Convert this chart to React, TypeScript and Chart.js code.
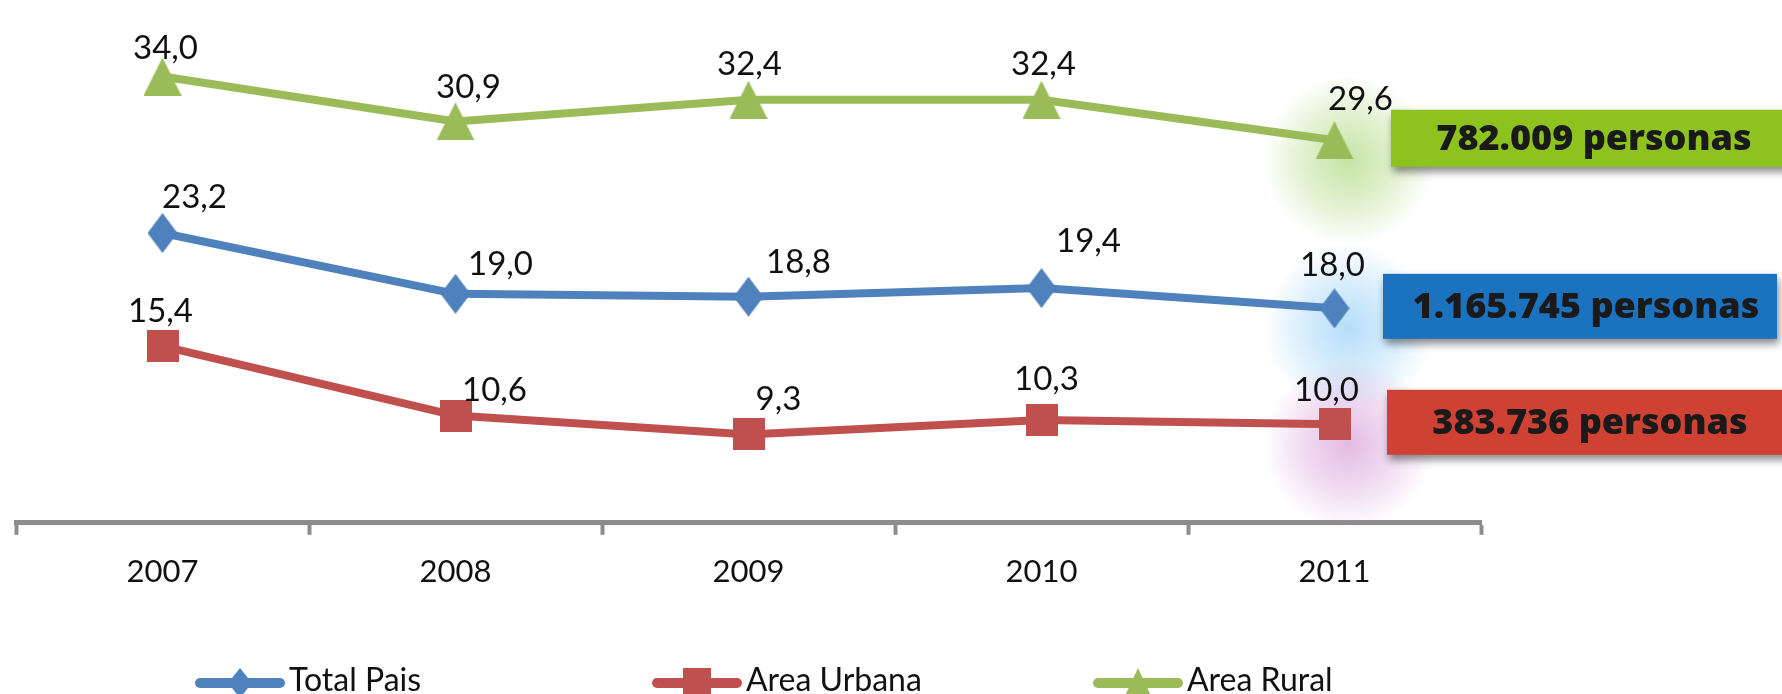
import React, { useEffect, useRef } from 'react';
import { Chart, registerables } from 'chart.js';

Chart.register(...registerables);

// ---------- data ----------
const YEARS = ['2007', '2008', '2009', '2010', '2011'];
const TOTAL_PAIS = [23.2, 19.0, 18.8, 19.4, 18.0];
const AREA_URBANA = [15.4, 10.6, 9.3, 10.3, 10.0];
const AREA_RURAL = [34.0, 30.9, 32.4, 32.4, 29.6];
const SERIES_NAMES = ['Total Pais', 'Area Urbana', 'Area Rural'];
const PERSONAS = ['1.165.745 personas', '383.736 personas', '782.009 personas'];

// ---------- styling ----------
const Y_MIN = 3.2;
const Y_MAX = 37.9;
const LINE_COLORS = ['#4F81BD', '#C0504D', '#9BBB59'];
const BOX_COLORS = ['#1B73BF', '#CF4132', '#8DC21F'];
const GLOW_COLORS = ['rgba(120,195,245,', 'rgba(205,130,205,', 'rgba(150,205,90,'];
const BOX_LEFT = [1383, 1387, 1391];
const BOX_RIGHT = [1777, 1790, 1790];
const BOX_HEIGHT = [65, 65, 57];
const LEGEND_X = [195, 652, 1093];
const LABEL_FONT = '33px Lato';
const LEGEND_FONT = '32px Lato';
// label nudges relative to each point (dx, dy)
const LABEL_NUDGE = [
  [[32, -36], [45, -30], [50, -34], [47, -47], [-2, -43]],
  [[-2, -35], [39, -25], [30, -35], [5, -41], [-8, -34]],
  [[3, -28], [13, -34], [1, -35], [2, -35], [26, -41]],
];

type Kind = 'diamond' | 'square' | 'triangle';
const KINDS: Kind[] = ['diamond', 'square', 'triangle'];

function makeMarker(kind: Kind, w: number, h: number, color: string): HTMLCanvasElement {
  const c = document.createElement('canvas');
  c.width = w;
  c.height = h;
  const ctx = c.getContext('2d')!;
  ctx.fillStyle = color;
  ctx.beginPath();
  if (kind === 'diamond') {
    ctx.moveTo(w / 2, 0);
    ctx.lineTo(w, h / 2);
    ctx.lineTo(w / 2, h);
    ctx.lineTo(0, h / 2);
  } else if (kind === 'square') {
    ctx.rect(0, 0, w, h);
  } else {
    ctx.moveTo(w / 2, 0);
    ctx.lineTo(w, h);
    ctx.lineTo(0, h);
  }
  ctx.closePath();
  ctx.fill();
  return c;
}

const MARKER_SIZES: Record<Kind, [number, number]> = {
  diamond: [30, 40],
  square: [32, 32],
  triangle: [38, 38],
};
const LEGEND_MARKER_SIZES: Record<Kind, [number, number]> = {
  diamond: [24, 30],
  square: [28, 30],
  triangle: [28, 30],
};

const fmt = (v: number) => v.toFixed(1).replace('.', ',');

const glowPlugin = {
  id: 'glow',
  beforeDatasetsDraw(chart: any) {
    const ctx = chart.ctx;
    chart.data.datasets.forEach((_: any, i: number) => {
      const meta = chart.getDatasetMeta(i);
      const el = meta.data[meta.data.length - 1];
      if (!el) return;
      const cx = el.x + 14;
      const cy = el.y + 20;
      const r = 85;
      const g = ctx.createRadialGradient(cx, cy, 0, cx, cy, r);
      g.addColorStop(0, GLOW_COLORS[i] + '0.55)');
      g.addColorStop(0.55, GLOW_COLORS[i] + '0.28)');
      g.addColorStop(1, GLOW_COLORS[i] + '0)');
      ctx.save();
      ctx.fillStyle = g;
      ctx.beginPath();
      ctx.arc(cx, cy, r, 0, Math.PI * 2);
      ctx.fill();
      ctx.restore();
    });
  },
};

const labelPlugin = {
  id: 'valueLabels',
  afterDatasetsDraw(chart: any) {
    const ctx = chart.ctx;
    ctx.save();
    ctx.font = LABEL_FONT;
    ctx.fillStyle = '#111';
    ctx.textAlign = 'center';
    ctx.textBaseline = 'middle';
    chart.data.datasets.forEach((ds: any, i: number) => {
      const meta = chart.getDatasetMeta(i);
      meta.data.forEach((el: any, j: number) => {
        const [dx, dy] = LABEL_NUDGE[i][j];
        ctx.fillText(fmt(ds.data[j]), el.x + dx, el.y + dy);
      });
    });
    ctx.restore();
  },
};

const boxPlugin = {
  id: 'personasBoxes',
  afterDraw(chart: any) {
    const ctx = chart.ctx;
    chart.data.datasets.forEach((_: any, i: number) => {
      const meta = chart.getDatasetMeta(i);
      const el = meta.data[meta.data.length - 1];
      if (!el) return;
      const cy = el.y - 2;
      const h = BOX_HEIGHT[i];
      const left = BOX_LEFT[i];
      const w = BOX_RIGHT[i] - left;
      ctx.save();
      ctx.shadowColor = 'rgba(0,0,0,0.45)';
      ctx.shadowBlur = 8;
      ctx.shadowOffsetX = 2;
      ctx.shadowOffsetY = 5;
      ctx.fillStyle = BOX_COLORS[i];
      ctx.fillRect(left, cy - h / 2, w, h);
      ctx.restore();
      ctx.save();
      ctx.font = '800 36px "Open Sans"';
      ctx.fillStyle = '#1a1a1a';
      ctx.textAlign = 'center';
      ctx.textBaseline = 'middle';
      ctx.fillText(PERSONAS[i], left + 203, cy + 1);
      ctx.restore();
    });
  },
};

const legendPlugin = {
  id: 'customLegend',
  afterDraw(chart: any) {
    const ctx = chart.ctx;
    const y = 683;
    chart.data.datasets.forEach((ds: any, i: number) => {
      const x0 = LEGEND_X[i];
      const x1 = x0 + 90;
      ctx.save();
      ctx.strokeStyle = ds.borderColor;
      ctx.lineWidth = 10;
      ctx.lineCap = 'round';
      ctx.beginPath();
      ctx.moveTo(x0 + 5, y);
      ctx.lineTo(x1 - 5, y);
      ctx.stroke();
      const [mw, mh] = LEGEND_MARKER_SIZES[KINDS[i]];
      const m = makeMarker(KINDS[i], mw, mh, ds.borderColor);
      ctx.drawImage(m, (x0 + x1) / 2 - mw / 2, y - mh / 2);
      ctx.font = LEGEND_FONT;
      ctx.fillStyle = '#111';
      ctx.textAlign = 'left';
      ctx.textBaseline = 'middle';
      ctx.fillText(ds.label, x1 + 4, y - 2);
      ctx.restore();
    });
  },
};

export default function App() {
  const ref = useRef<HTMLCanvasElement | null>(null);

  useEffect(() => {
    document.body.style.margin = '0';
    document.body.style.overflow = 'hidden';
    const canvas = ref.current;
    if (!canvas) return;
    const seriesData = [TOTAL_PAIS, AREA_URBANA, AREA_RURAL];
    const datasets = seriesData.map((d, i) => {
      const [w, h] = MARKER_SIZES[KINDS[i]];
      return {
        label: SERIES_NAMES[i],
        data: d,
        borderColor: LINE_COLORS[i],
        backgroundColor: LINE_COLORS[i],
        borderWidth: 8,
        borderJoinStyle: 'round' as const,
        borderCapStyle: 'round' as const,
        tension: 0,
        fill: false,
        pointStyle: makeMarker(KINDS[i], w, h, LINE_COLORS[i]),
        pointRadius: 16,
      };
    });
    const chart = new Chart(canvas, {
      type: 'line',
      data: { labels: YEARS, datasets },
      options: {
        animation: false,
        responsive: false,
        devicePixelRatio: 1,
        layout: { autoPadding: false, padding: { left: 16, right: 301, top: 20, bottom: 84 } },
        plugins: {
          legend: { display: false },
          tooltip: { enabled: false },
        },
        scales: {
          x: {
            type: 'category',
            offset: true,
            border: { display: true, color: '#8c8c8c', width: 5 },
            grid: {
              display: true,
              offset: true,
              drawOnChartArea: false,
              drawTicks: true,
              tickLength: 12,
              tickWidth: 4,
              tickColor: '#8c8c8c',
            },
            ticks: {
              font: { family: 'Lato', size: 31 },
              color: '#111',
              padding: 19,
            },
          },
          y: {
            display: false,
            min: Y_MIN,
            max: Y_MAX,
          },
        },
      },
      plugins: [glowPlugin, labelPlugin, boxPlugin, legendPlugin],
    });
    return () => chart.destroy();
  }, []);

  return (
    <div style={{ width: 1782, height: 694, overflow: 'hidden', background: '#fff' }}>
      <canvas ref={ref} width={1782} height={694} style={{ display: 'block', width: 1782, height: 694 }} />
    </div>
  );
}
